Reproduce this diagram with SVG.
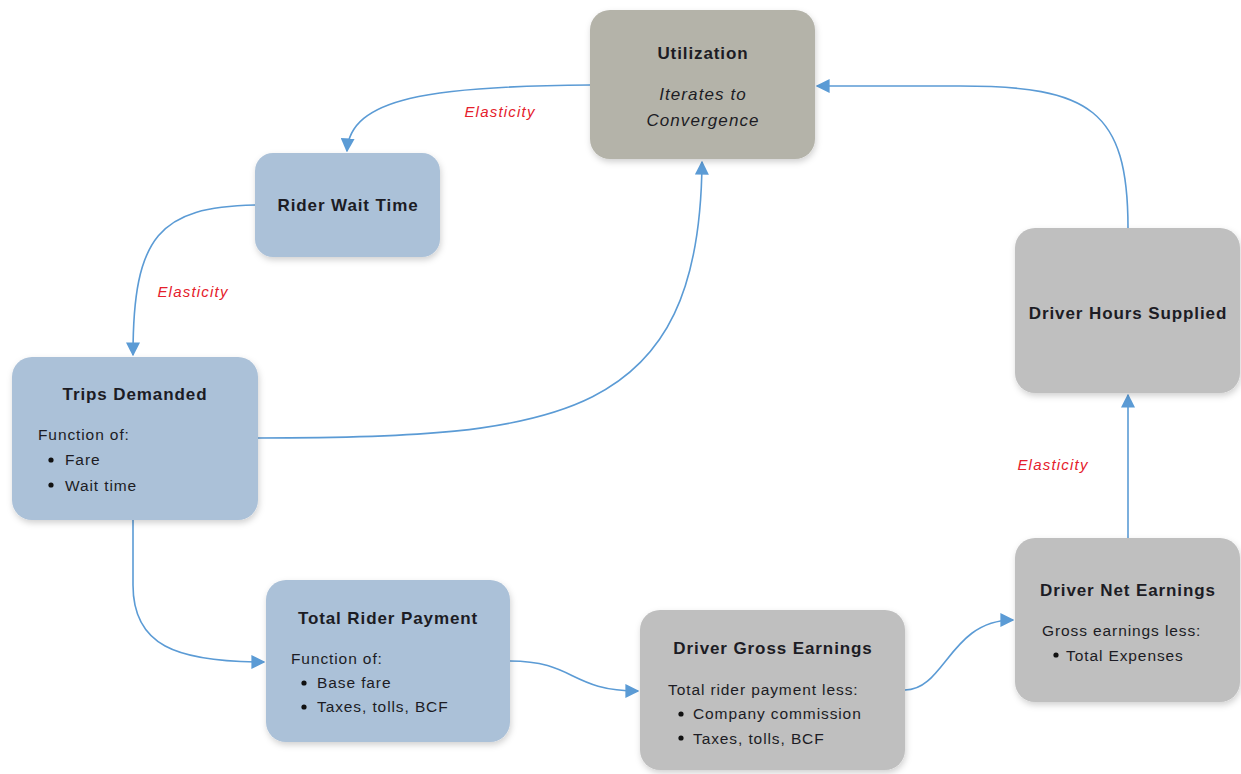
<svg xmlns="http://www.w3.org/2000/svg" width="1241" height="774" viewBox="0 0 1241 774">
<style>
.box{stroke:none}
.blue{fill:#abc1d8}
.gray{fill:#bfbfbf}
.util{fill:#b4b3a9}
.t{font-family:"Liberation Sans",Arial,sans-serif;fill:#1c1c24}
.title{font-size:17px;font-weight:bold;text-anchor:middle;letter-spacing:0.9px}
.body{font-size:15.5px;letter-spacing:0.9px}
.it{font-size:17px;font-style:italic;text-anchor:middle;letter-spacing:1.1px}
.el{font-family:"Liberation Sans",Arial,sans-serif;font-size:15px;font-style:italic;fill:#e5202b;text-anchor:middle;letter-spacing:1.2px}
.c{fill:none;stroke:#5b9bd5;stroke-width:1.6}
</style>
<defs>
<filter id="sh" x="-10%" y="-10%" width="120%" height="125%">
<feDropShadow dx="1" dy="3" stdDeviation="3" flood-color="#000" flood-opacity="0.18"/>
</filter>
<marker id="ahl" viewBox="0 0 10 10" refX="9" refY="5" markerWidth="14" markerHeight="14" markerUnits="userSpaceOnUse" orient="auto">
<path d="M0,0 L10,5 L0,10 z" fill="#5b9bd5"/>
</marker>
</defs>

<g id="connectors">
<path class="c" d="M590,85 C430,86 350,98 347,151" marker-end="url(#ahl)"/>
<path class="c" d="M255,205 C160,207 133,235 133,355" marker-end="url(#ahl)"/>
<path class="c" d="M258,438 C560,438 700,420 702,162" marker-end="url(#ahl)"/>
<path class="c" d="M133,520 L133,585 C133,645 175,662 264,662" marker-end="url(#ahl)"/>
<path class="c" d="M510,661 C575,661 570,691 638,691" marker-end="url(#ahl)"/>
<path class="c" d="M905,690 C945,690 950,620 1013,620" marker-end="url(#ahl)"/>
<path class="c" d="M1128,538 L1128,395" marker-end="url(#ahl)"/>
<path class="c" d="M1128,228 C1128,110 1090,86 960,86 L817,86" marker-end="url(#ahl)"/>
<text class="el" x="500" y="117">Elasticity</text>
<text class="el" x="193" y="297">Elasticity</text>
<text class="el" x="1053" y="470">Elasticity</text>
</g>

<g id="utilization">
<rect class="box util" x="590" y="10" width="225" height="149" rx="20" filter="url(#sh)"/>
<text class="t title" x="703" y="59">Utilization</text>
<text class="t it" x="703" y="100">Iterates to</text>
<text class="t it" x="703" y="126">Convergence</text>
</g>

<g id="rider-wait-time">
<rect class="box blue" x="255" y="153" width="185" height="104" rx="18" filter="url(#sh)"/>
<text class="t title" x="348" y="211">Rider Wait Time</text>
</g>

<g id="trips-demanded">
<rect class="box blue" x="12" y="357" width="246" height="163" rx="20" filter="url(#sh)"/>
<text class="t title" x="135" y="400">Trips Demanded</text>
<text class="t body" x="38" y="440">Function of:</text>
<circle cx="51" cy="460" r="2.6" fill="#111"/>
<text class="t body" x="65" y="465">Fare</text>
<circle cx="51" cy="485" r="2.6" fill="#111"/>
<text class="t body" x="65" y="491">Wait time</text>
</g>

<g id="total-rider-payment">
<rect class="box blue" x="266" y="580" width="244" height="162" rx="20" filter="url(#sh)"/>
<text class="t title" x="388" y="624">Total Rider Payment</text>
<text class="t body" x="291" y="664">Function of:</text>
<circle cx="304" cy="683" r="2.6" fill="#111"/>
<text class="t body" x="317" y="688">Base fare</text>
<circle cx="304" cy="707" r="2.6" fill="#111"/>
<text class="t body" x="317" y="712">Taxes, tolls, BCF</text>
</g>

<g id="driver-gross-earnings">
<rect class="box gray" x="640" y="610" width="265" height="160" rx="20" filter="url(#sh)"/>
<text class="t title" x="773" y="654">Driver Gross Earnings</text>
<text class="t body" x="668" y="695">Total rider payment less:</text>
<circle cx="681" cy="714" r="2.6" fill="#111"/>
<text class="t body" x="693" y="719">Company commission</text>
<circle cx="681" cy="738" r="2.6" fill="#111"/>
<text class="t body" x="693" y="744">Taxes, tolls, BCF</text>
</g>

<g id="driver-net-earnings">
<rect class="box gray" x="1015" y="538" width="225" height="164" rx="20" filter="url(#sh)"/>
<text class="t title" x="1128" y="596">Driver Net Earnings</text>
<text class="t body" x="1042" y="636">Gross earnings less:</text>
<circle cx="1056" cy="655" r="2.6" fill="#111"/>
<text class="t body" x="1066" y="661">Total Expenses</text>
</g>

<g id="driver-hours-supplied">
<rect class="box gray" x="1015" y="228" width="225" height="165" rx="20" filter="url(#sh)"/>
<text class="t title" x="1128" y="319">Driver Hours Supplied</text>
</g>
</svg>
